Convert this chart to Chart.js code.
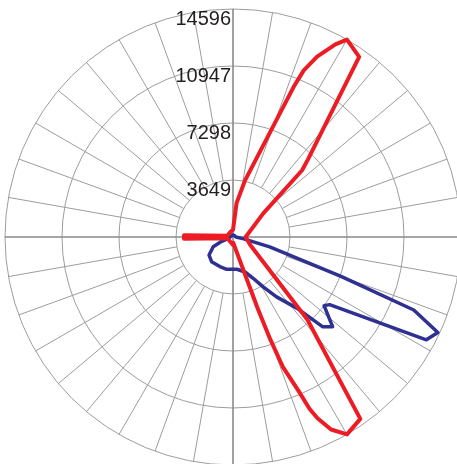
<!DOCTYPE html>
<html>
<head>
<meta charset="utf-8">
<script src="https://cdn.jsdelivr.net/npm/chart.js@4/dist/chart.umd.min.js"></script>
<style>
  html, body { margin: 0; padding: 0; overflow: hidden; background: #fff; }
  #wrap { position: absolute; left: 0; top: 0; }
</style>
</head>
<body>
<div id="wrap"><canvas id="polar" width="466" height="474"></canvas></div>
<script>
// angle categories, one per degree, clockwise from the top
const angles = Array.from({ length: 360 }, (_, i) => i);

// red curve (cd) at the angles where it bends
const redAngles = [0, 6, 12, 22, 23, 25, 28, 30, 35, 44, 46, 52, 90, 115, 138, 145, 150, 153,
                   155, 156, 157, 159, 160, 161, 177, 180, 200, 258, 268, 272, 282, 340];
const redValues = [450, 2180, 3710, 10370, 11590, 12740, 13960, 14590, 14080, 6910, 6150, 2460,
                   810, 1220, 7110, 14210, 14590, 13830, 12800, 12040, 10630, 8900, 6980, 4740,
                   380, 510, 380, 380, 3140, 3140, 380, 380];

// blue curve (cd)
const blueAngles = [0, 45, 90, 100, 105, 110, 112, 115, 118, 125, 127, 132, 135, 138, 144, 149,
                    154, 161, 173, 191, 204, 221, 233, 244, 249, 252, 270, 315];
const blueValues = [130, 130, 190, 700, 2430, 7360, 12480, 14470, 14020, 7550, 7300, 8580, 8130,
                    6150, 4740, 3710, 2940, 2370, 2080, 2110, 2070, 2090, 1920, 1410, 770, 260,
                    190, 130];

const tickValues = [3649, 7298, 10947, 14596];

function toSeries(degs, vals) {
    const out = angles.map(() => null);
    degs.forEach((d, i) => { out[d] = vals[i]; });
    return out;
}

// radial lines every 10 deg (from the first ring) and tick texts
const polarGrid = {
    id: 'polarGrid',
    beforeDatasetsDraw(chart) {
        const scale = chart.scales.r;
        const ctx = chart.ctx;
        const inner = scale.getDistanceFromCenterForValue(tickValues[0]);
        const outer = scale.getDistanceFromCenterForValue(tickValues[tickValues.length - 1]);
        ctx.save();
        for (let i = 0; i < 360; i += 10) {
            const axis = i % 90 === 0;
            const a = scale.getPointPosition(i, axis ? 0 : inner);
            const b = scale.getPointPosition(i, outer);
            ctx.beginPath();
            ctx.strokeStyle = axis ? '#8a8a8a' : '#9c9c9c';
            ctx.lineWidth = axis ? 1.6 : 1;
            ctx.moveTo(a.x, a.y);
            ctx.lineTo(b.x, b.y);
            ctx.stroke();
        }
        ctx.fillStyle = '#231f20';
        ctx.font = '20px "Liberation Sans", Arial, sans-serif';
        ctx.textAlign = 'right';
        ctx.textBaseline = 'middle';
        tickValues.forEach(v => {
            const y = scale.yCenter - scale.getDistanceFromCenterForValue(v) + 10;
            ctx.fillText(String(v), scale.xCenter - 2, y);
        });
        ctx.restore();
    }
};

new Chart(document.getElementById('polar'), {
    type: 'radar',
    data: {
        labels: angles,
        datasets: [{
            label: 'C0-C180',
            data: toSeries(redAngles, redValues),
            borderColor: '#ed1c24',
            borderWidth: 4,
            borderJoinStyle: 'round',
            spanGaps: true,
            fill: false,
            pointRadius: 0
        }, {
            label: 'C90-C270',
            data: toSeries(blueAngles, blueValues),
            borderColor: '#2e3192',
            borderWidth: 3.5,
            borderJoinStyle: 'round',
            spanGaps: true,
            fill: false,
            pointRadius: 0
        }]
    },
    options: {
        responsive: false,
        animation: false,
        layout: { padding: { left: 5, top: 9, right: 5, bottom: 9 } },
        plugins: { legend: { display: false }, tooltip: { enabled: false } },
        scales: {
            r: {
                min: 0,
                max: 14596,
                afterBuildTicks: scale => {
                    scale.ticks = [0, ...tickValues].map(v => ({ value: v }));
                },
                ticks: { display: false },
                grid: { circular: true, color: '#9c9c9c', lineWidth: 1 },
                angleLines: { display: false },
                pointLabels: { display: false }
            }
        }
    },
    plugins: [polarGrid]
});
</script>
</body>
</html>
